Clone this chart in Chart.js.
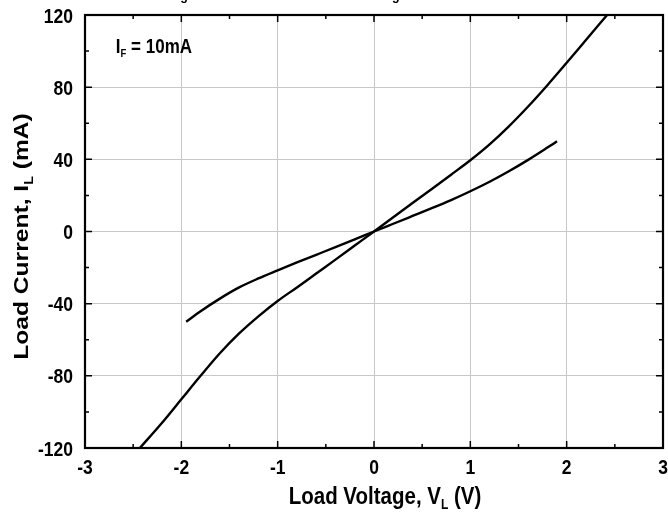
<!DOCTYPE html>
<html><head><meta charset="utf-8">
<script src="https://cdn.jsdelivr.net/npm/chart.js@4"></script>
<style>html,body{margin:0;padding:0;background:#fff;} #wrap{width:668px;height:515px;position:relative;}</style>
</head><body><div id="wrap"><canvas id="c" width="668" height="515"></canvas></div>
<script>
// ---- data ----
const steepV = [-2.43, -2.2, -2.0, -1.8, -1.6, -1.4, -1.2, -1.0, -0.8, -0.6, -0.4, -0.2, 0, 0.2, 0.4, 0.6, 0.8, 1.0, 1.2, 1.4, 1.6, 1.8, 2.0, 2.2, 2.42];
const steepI = [-120, -106, -93, -80, -67.5, -56.5, -47, -38.5, -31, -23.3, -15.6, -7.8, 0, 7.9, 15.8, 23.6, 31.5, 39.5, 48.3, 58.3, 69.3, 81.1, 93.5, 106.1, 120];
const shallowV = [-1.95, -1.8, -1.6, -1.4, -1.2, -1.0, -0.8, -0.6, -0.4, -0.2, 0, 0.2, 0.4, 0.6, 0.8, 1.0, 1.2, 1.4, 1.6, 1.8, 1.9];
const shallowI = [-50, -44.2, -37.2, -31, -26, -21.5, -17.1, -12.9, -8.7, -4.4, 0, 4.3, 8.6, 12.9, 17.4, 22.3, 27.6, 33.4, 39.7, 46.5, 50];
const xTicks = [-3, -2, -1, 0, 1, 2, 3];
const yTicks = [-120, -80, -40, 0, 40, 80, 120];
const xTitle = ["Load Voltage, V", "L", " (V)"];
const yTitle = ["Load Current, I", "L", " (mA)"];
const note = ["I", "F", " = 10mA"];
const noteAt = [-2.68, 99];
const figTitle = "Figure 9. Load Current vs. Load Voltage";

const FONT = "'Liberation Sans', Arial, Helvetica, sans-serif";
const K = 1.2; // vertical stretch of the lettering, as in the reference picture
const pts = (xs, ys) => xs.map((x, i) => ({x: x, y: ys[i]}));
const f = (s) => "bold " + s + "px " + FONT;

function drawParts(ctx, parts, size, subSize, subDrop, align) {
  ctx.font = f(size); const w0 = ctx.measureText(parts[0]).width;
  ctx.font = f(subSize); const w1 = ctx.measureText(parts[1]).width;
  ctx.font = f(size); const w2 = ctx.measureText(parts[2]).width;
  const total = w0 + w1 + w2;
  let x = align === 'left' ? 0 : -total / 2;
  ctx.textAlign = 'left';
  ctx.font = f(size); ctx.fillText(parts[0], x, 0); x += w0;
  ctx.font = f(subSize); ctx.fillText(parts[1], x, subDrop); x += w1;
  ctx.font = f(size); ctx.fillText(parts[2], x, 0);
}

const decor = {
  id: 'decor',
  afterDatasetsDraw(chart) {
    const ctx = chart.ctx, a = chart.chartArea;
    const xs = chart.scales.x, ys = chart.scales.y;
    ctx.save();
    ctx.strokeStyle = '#000';
    ctx.fillStyle = '#000';
    // inward ticks (major + minor)
    ctx.lineWidth = 1.5;
    for (let v = xTicks[0]; v <= xTicks[xTicks.length - 1] + 1e-9; v += 0.5) {
      const p = xs.getPixelForValue(v);
      const L = Math.abs(v - Math.round(v)) < 1e-6 ? 7 : 4;
      ctx.beginPath();
      ctx.moveTo(p, a.bottom); ctx.lineTo(p, a.bottom - L);
      ctx.moveTo(p, a.top); ctx.lineTo(p, a.top + L);
      ctx.stroke();
    }
    for (let v = yTicks[0]; v <= yTicks[yTicks.length - 1] + 1e-9; v += 20) {
      const p = ys.getPixelForValue(v);
      const L = (v % 40 === 0) ? 7 : 4;
      ctx.beginPath();
      ctx.moveTo(a.left, p); ctx.lineTo(a.left + L, p);
      ctx.moveTo(a.right, p); ctx.lineTo(a.right - L, p);
      ctx.stroke();
    }
    // frame
    ctx.lineWidth = 2.2;
    ctx.strokeRect(a.left, a.top, a.right - a.left, a.bottom - a.top);

    ctx.textBaseline = 'alphabetic';
    // tick labels
    const TS = 17.5, cap = 0.716 * TS * K;
    ctx.font = f(TS);
    ctx.textAlign = 'center';
    xTicks.forEach(v => {
      ctx.save(); ctx.translate(xs.getPixelForValue(v), 474); ctx.scale(1, K);
      ctx.fillText(String(v), 0, 0); ctx.restore();
    });
    ctx.textAlign = 'right';
    yTicks.forEach(v => {
      ctx.save(); ctx.translate(a.left - 12, ys.getPixelForValue(v) + cap / 2); ctx.scale(1, K);
      ctx.fillText(String(v), 0, 0); ctx.restore();
    });
    // annotation
    ctx.save();
    ctx.translate(xs.getPixelForValue(noteAt[0]), ys.getPixelForValue(noteAt[1]));
    ctx.scale(1, K);
    drawParts(ctx, note, 17, 9.5, 3.5, 'left');
    ctx.restore();
    // x title
    ctx.save();
    ctx.translate(385, 504); ctx.scale(1, K);
    drawParts(ctx, xTitle, 20.5, 12, 4.5, 'center');
    ctx.restore();
    // y title
    ctx.save();
    ctx.translate(28, 236.5); ctx.rotate(-Math.PI / 2); ctx.scale(K, 1);
    drawParts(ctx, yTitle, 20.5, 12, 4.5, 'center');
    ctx.restore();
    // figure title (only its lowest strokes fall inside the picture, as in the reference)
    ctx.save();
    ctx.translate(169, -0.5); ctx.scale(1, K);
    ctx.font = f(12.6); ctx.textAlign = 'left';
    ctx.fillText(figTitle, 0, 0);
    ctx.restore();
    ctx.restore();
  }
};

new Chart(document.getElementById('c'), {
  type: 'scatter',
  data: {
    datasets: [
      {data: pts(steepV, steepI), showLine: true, borderColor: '#000', borderWidth: 2.4, pointRadius: 0, cubicInterpolationMode: 'monotone'},
      {data: pts(shallowV, shallowI), showLine: true, borderColor: '#000', borderWidth: 2.4, pointRadius: 0, cubicInterpolationMode: 'monotone'}
    ]
  },
  options: {
    responsive: false,
    animation: false,
    devicePixelRatio: 1,
    layout: {padding: {top: 15, right: 5, left: 0, bottom: 0}},
    plugins: {legend: {display: false}, tooltip: {enabled: false}, title: {display: false}},
    scales: {
      x: {
        type: 'linear', min: -3, max: 3,
        afterBuildTicks(s) { s.ticks = xTicks.map(v => ({value: v})); },
        afterFit(s) { s.height = 67; },
        ticks: {display: false},
        grid: {color: '#c8c8c8', lineWidth: 1, drawTicks: false},
        border: {display: false}
      },
      y: {
        type: 'linear', min: -120, max: 120,
        afterBuildTicks(s) { s.ticks = yTicks.map(v => ({value: v})); },
        afterFit(s) { s.width = 85; },
        ticks: {display: false},
        grid: {color: '#c8c8c8', lineWidth: 1, drawTicks: false},
        border: {display: false}
      }
    }
  },
  plugins: [decor]
});
</script></body></html>
